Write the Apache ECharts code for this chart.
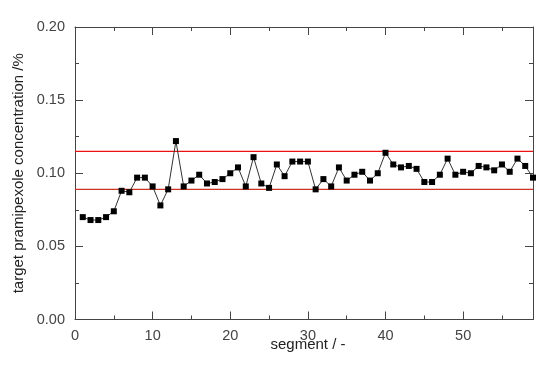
<!DOCTYPE html>
<html>
<head>
<meta charset="utf-8">
<script src="https://cdn.jsdelivr.net/npm/echarts@6/dist/echarts.min.js"></script>
<style>html,body{margin:0;padding:0;background:#fff}#c{width:550px;height:366px}</style>
</head>
<body>
<div id="c"></div>
<script>
var segments = [1,2,3,4,5,6,7,8,9,10,11,12,13,14,15,16,17,18,19,20,21,22,23,24,25,26,27,28,29,30,31,32,33,34,35,36,37,38,39,40,41,42,43,44,45,46,47,48,49,50,51,52,53,54,55,56,57,58,59];
var concentration = [0.070,0.068,0.068,0.070,0.074,0.088,0.087,0.097,0.097,0.091,
  0.078,0.089,0.122,0.091,0.095,0.099,0.093,0.094,0.096,0.100,
  0.104,0.091,0.111,0.093,0.090,0.106,0.098,0.108,0.108,0.108,
  0.089,0.096,0.091,0.104,0.095,0.099,0.101,0.095,0.100,0.114,
  0.106,0.104,0.105,0.103,0.094,0.094,0.099,0.110,0.099,0.101,
  0.100,0.105,0.104,0.102,0.106,0.101,0.110,0.105,0.097];
var limits = [0.115, 0.089];
var xMin = 0, xMax = 59, yMin = 0, yMax = 0.20;

var FONT = 'Liberation Sans';
var axisColor = '#444';
var limitColors = ['#ee1111', '#cc3322'];
function isMult(v, s){ var r = v / s; return Math.abs(r - Math.round(r)) < 1e-6; }

function xAx(pos, interval, len, showLine, showLabel){
  return {
    type: 'value', position: pos, min: xMin, max: xMax, interval: interval,
    axisLine: {show: showLine, onZero: false, lineStyle: {color: axisColor, width: 1}},
    axisTick: {show: true, inside: true, length: len, lineStyle: {color: axisColor, width: 1}},
    axisLabel: {show: showLabel, margin: 9, color: '#444', fontFamily: FONT, fontSize: 14.5,
      formatter: function(v){ return (isMult(v,10) && v <= 50) ? String(v) : ''; }},
    splitLine: {show: false},
    name: (showLabel ? 'segment / -' : ''), nameLocation: 'middle', nameGap: 18,
    nameMoveOverlap: false,
    nameTextStyle: {color: '#222', fontFamily: FONT, fontSize: 15, padding: [0,0,0,8]}
  };
}
function yAx(pos, interval, len, showLine, showLabel){
  return {
    type: 'value', position: pos, min: yMin, max: yMax, interval: interval,
    axisLine: {show: showLine, onZero: false, lineStyle: {color: axisColor, width: 1}},
    axisTick: {show: true, inside: true, length: len, lineStyle: {color: axisColor, width: 1}},
    axisLabel: {show: showLabel, margin: 10, color: '#444', fontFamily: FONT, fontSize: 14.5,
      formatter: function(v){ return isMult(v,0.05) ? v.toFixed(2) : ''; }},
    splitLine: {show: false},
    name: (showLabel ? 'target pramipexole concentration /%' : ''), nameLocation: 'middle', nameGap: 49,
    nameMoveOverlap: false,
    nameTextStyle: {color: '#222', fontFamily: FONT, fontSize: 15}
  };
}

var limitSeries = limits.map(function(v, i){
  return {
    type: 'line', xAxisIndex: 0, yAxisIndex: 0,
    data: [[xMin, v], [xMax, v]],
    symbol: 'none', silent: true, z: 2,
    itemStyle: {color: limitColors[i]},
    lineStyle: {color: limitColors[i], width: 1.2, type: 'solid', opacity: 1},
    emphasis: {disabled: true}
  };
});

var chart = echarts.init(document.getElementById('c'), null, {renderer: 'canvas'});
chart.setOption({
  animation: false,
  backgroundColor: '#fff',
  grid: {left: 75, right: 17, top: 27, bottom: 46.5},
  xAxis: [
    xAx('bottom', 5, 4, true, true),
    xAx('bottom', 10, 8, false, false),
    xAx('top', 5, 4, true, false),
    xAx('top', 10, 8, false, false)
  ],
  yAxis: [
    yAx('left', 0.025, 4, true, true),
    yAx('left', 0.05, 8, false, false),
    yAx('right', 0.025, 4, true, false),
    yAx('right', 0.05, 8, false, false)
  ],
  series: limitSeries.concat([{
    type: 'line',
    xAxisIndex: 0, yAxisIndex: 0,
    data: segments.map(function(s, i){ return [s, concentration[i]]; }),
    symbol: 'rect', symbolSize: 6,
    itemStyle: {color: '#000'},
    lineStyle: {color: '#333', width: 1},
    z: 3
  }])
});
</script>
</body>
</html>
